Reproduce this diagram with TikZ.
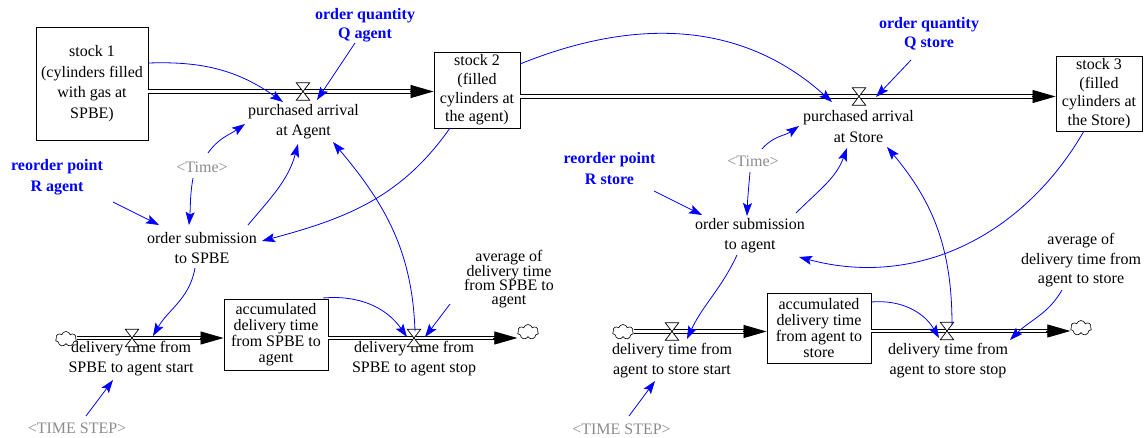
\documentclass[tikz,border=0pt]{standalone}
\usepackage{fontspec}
\setmainfont{Liberation Serif}
\usetikzlibrary{arrows.meta,shapes.symbols,calc}
\definecolor{lnkblue}{RGB}{0,0,255}
\definecolor{shgray}{RGB}{140,140,140}
\newcommand\tf[1]{\fontsize{16}{#1}\selectfont\lineskiplimit=-30pt\relax}
\begin{document}
\begin{tikzpicture}[x=1pt,y=-1pt,
  var/.style={align=center, inner sep=0pt, font=\tf{20}},
  bvar/.style={align=center, inner sep=0pt, font=\tf{19}\bfseries, text=lnkblue},
  gvar/.style={align=center, inner sep=0pt, font=\tf{20}, text=shgray},
  stock/.style={draw, line width=0.9pt, align=center, inner sep=0pt},
  valve/.style={inner sep=0pt, minimum width=13pt, minimum height=17pt},
  cl/.style={cloud, cloud puffs=7, cloud ignores aspect, draw, fill=white, line width=0.6pt, inner sep=0pt, minimum width=21pt, minimum height=15pt},
  pipe/.style={draw=black, line width=1pt, double=white, double distance=2.4pt, shorten >=21pt},
  pipetip/.style={line width=0.8pt, -{Triangle[length=23pt,width=13pt]}},
  lnk/.style={draw=lnkblue, line width=0.8pt, -{Stealth[length=13pt,width=9pt,inset=2.5pt]}}
]
\useasboundingbox (0,0) rectangle (1146,437);

% stocks
\node[stock, minimum width=112pt, minimum height=113pt, font=\tf{20.7}] (s1) at (92,83.5) {stock 1\\(cylinders filled\\with gas at\\SPBE)};
\node[stock, minimum width=86pt, minimum height=76pt, font=\tf{18.7}] (s2) at (477,90) {stock 2\\(filled\\cylinders at\\the agent)};
\node[stock, minimum width=86pt, minimum height=75pt, font=\tf{18.7}] (s3) at (1099,93.5) {stock 3\\(filled\\cylinders at\\the Store)};
\node[stock, minimum width=104pt, minimum height=71pt, font=\tf{16}] (a1) at (276,334.5) {accumulated\\delivery time\\from SPBE to\\agent};
\node[stock, minimum width=104pt, minimum height=70pt, font=\tf{16.3}] (a2) at (819,328) {accumulated\\delivery time\\from agent to\\store};

% valves
\node[valve] (v1) at (303,91.5) {};
\node[valve] (v2) at (859,96.5) {};
\node[valve] (v3) at (132,338) {};
\node[valve] (v4) at (414,338) {};
\node[valve] (v5) at (672,331.5) {};
\node[valve] (v6) at (947,331) {};

% clouds
\node[cl] (c1) at (66,339) {};
\node[cl] (c2) at (528,332) {};
\node[cl] (c3) at (623,332) {};
\node[cl] (c4) at (1081,328) {};

% variables
\node[bvar] (oqa) at (365,25.5) {order quantity\\Q agent};
\node[bvar] (oqs) at (929,34) {order quantity\\Q store};
\node[bvar, font=\tf{21}\bfseries] (rpa) at (57,177.5) {reorder point\\R agent};
\node[bvar, font=\tf{21}\bfseries] (rps) at (609.5,168.5) {reorder point\\R store};
\node[gvar] (tA) at (202,167) {<Time>};
\node[gvar] (tS) at (753,161) {<Time>};
\node[var] (pa1) at (303.5,122) {purchased arrival\\at Agent};
\node[var, font=\tf{21}] (pa2) at (858.5,126.5) {purchased arrival\\at Store};
\node[var] (osA) at (202,248) {order submission\\to SPBE};
\node[var] (osS) at (750,235.5) {order submission\\to agent};
\node[var] (ds1) at (131,359) {delivery time from\\SPBE to agent start};
\node[var] (de1) at (414,359) {delivery time from\\SPBE to agent stop};
\node[var] (ds2) at (672,361) {delivery time from\\agent to store start};
\node[var] (de2) at (948,361) {delivery time from\\agent to store stop};
\node[var, font=\tf{14.3}] (avg1) at (509,279.5) {average of\\delivery time\\from SPBE to\\agent};
\node[var, font=\tf{19.5}] (avg2) at (1081,260.5) {average of\\delivery time from\\agent to store};
\node[gvar] (TS1) at (77,428) {<TIME STEP>};
\node[gvar] (TS2) at (621.5,429) {<TIME STEP>};

% pipes
\draw[pipe] (s1.east |- v1) -- (s2.west |- v1);
\draw[pipetip] ($(s2.west |- v1)+(-24,0)$) -- (s2.west |- v1);
\draw[pipe] (s2.east |- v2) -- (s3.west |- v2);
\draw[pipetip] ($(s3.west |- v2)+(-24,0)$) -- (s3.west |- v2);
\draw[pipe] (c1.east |- v3) -- (a1.west |- v3);
\draw[pipetip] ($(a1.west |- v3)+(-24,0)$) -- (a1.west |- v3);
\draw[pipe] (a1.east |- v4) -- (c2.west |- v4);
\draw[pipetip] ($(c2.west |- v4)+(-24,0)$) -- (c2.west |- v4);
\draw[pipe] (c3.east |- v5) -- (a2.west |- v5);
\draw[pipetip] ($(a2.west |- v5)+(-24,0)$) -- (a2.west |- v5);
\draw[pipe] (a2.east |- v6) -- (c4.west |- v6);
\draw[pipetip] ($(c4.west |- v6)+(-24,0)$) -- (c4.west |- v6);

\foreach \v in {v1,v2,v3,v4,v5,v6}
  \draw[fill=white, line width=0.7pt] (\v.north west) -- (\v.north east) -- (\v.south west) -- (\v.south east) -- cycle;

% links (left)
\draw[lnk] ([shift={(0,-20.5)}]s1.east) to[out=2,in=145] ([shift={(-20.5,-20)}]pa1.center);
\draw[lnk] ([shift={(-10,17.5)}]oqa.center) -- ([shift={(13.5,-22)}]pa1.center);
\draw[lnk] ([shift={(6,-14)}]tA.center) to[out=55,in=215] ([shift={(-58.5,2)}]pa1.center);
\draw[lnk] ([shift={(-9,11)}]tA.center) to[out=-100,in=85] ([shift={(-13,-23)}]osA.center);
\draw[lnk] ([shift={(56,24.5)}]rpa.center) -- ([shift={(-43,-23)}]osA.center);
\draw[lnk] ([shift={(46,-23)}]osA.center) to[out=50,in=-105] ([shift={(-5.5,22)}]pa1.center);
\draw[lnk] ([shift={(1,-7)}]v4.center) to[out=92,in=-50] ([shift={(29.5,20)}]pa1.center);
\draw[lnk] ([shift={(-27,38)}]s2.center) to[out=-125,in=15] ([shift={(60,-7)}]osA.center);
\draw[lnk] ([shift={(-7,20)}]osA.center) to[out=-100,in=60] ([shift={(22,-23)}]ds1.center);
\draw[lnk] ([shift={(9,-12)}]TS1.center) -- ([shift={(-18,21)}]ds1.center);
\draw[lnk] ([shift={(47,-36.5)}]a1.center) to[out=5,in=125] ([shift={(-7,-1)}]v4.center);
\draw[lnk] ([shift={(-59,24.5)}]avg1.center) -- ([shift={(11,-1)}]v4.center);

% links (right)
\draw[lnk] ([shift={(43,-26)}]s2.center) to[out=22,in=138] ([shift={(-26.5,-24.5)}]pa2.center);
\draw[lnk] ([shift={(-18,26)}]oqs.center) -- ([shift={(17.5,-29.5)}]pa2.center);
\draw[lnk] ([shift={(9,-12)}]tS.center) to[out=50,in=215] ([shift={(-59.5,-0.5)}]pa2.center);
\draw[lnk] ([shift={(-3,11)}]tS.center) to[out=-95,in=88] ([shift={(-3,-19.5)}]osS.center);
\draw[lnk] ([shift={(44.5,22.5)}]rps.center) -- ([shift={(-48,-20.5)}]osS.center);
\draw[lnk] ([shift={(46,-22.5)}]osS.center) to[out=45,in=-110] ([shift={(-11.5,21.5)}]pa2.center);
\draw[lnk] ([shift={(5,-6)}]v6.center) to[out=90,in=-50] ([shift={(28.5,20.5)}]pa2.center);
\draw[lnk] ([shift={(-15,37.5)}]s3.center) to[out=-120,in=-15] ([shift={(49,21.5)}]osS.center);
\draw[lnk] ([shift={(-13,19.5)}]osS.center) to[out=-115,in=65] ([shift={(15,-22)}]ds2.center);
\draw[lnk] ([shift={(7.5,-13)}]TS2.center) -- ([shift={(-17,20)}]ds2.center);
\draw[lnk] ([shift={(52,-26)}]a2.center) to[out=5,in=120] ([shift={(-8,7)}]v6.center);
\draw[lnk] ([shift={(-19,29.5)}]avg2.center) to[out=-120,in=45] ([shift={(62,-21)}]de2.center);
\end{tikzpicture}
\end{document}
